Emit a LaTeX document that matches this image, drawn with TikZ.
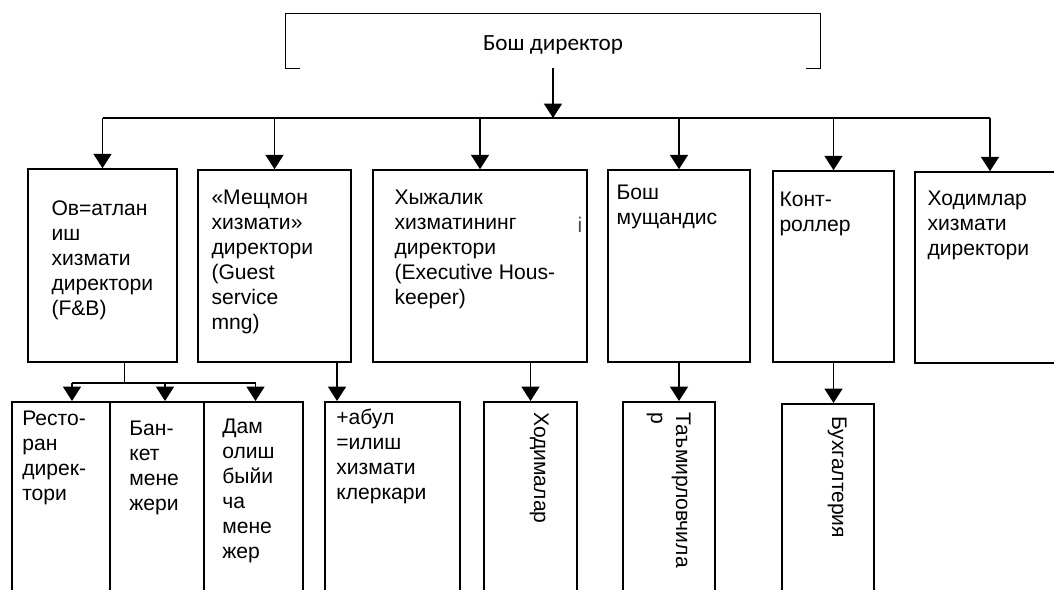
\documentclass[tikz,border=0pt]{standalone}
\usepackage{fontspec}
\setmainfont{Liberation Sans}
\newfontfamily\calfont{Carlito}
\usepackage{xcolor}
\usepackage{tikz}
\usetikzlibrary{arrows.meta,fit,calc}

\tikzset{
  box/.style = {draw, line width=1.1pt, inner sep=0pt},
  lowbox/.style = {box, line width=1.4pt},
  lbl/.style = {anchor=north west, align=left, inner sep=0pt,
                font=\fontsize{15}{17.8}\selectfont},
  vlbl/.style = {lbl, rotate=-90},
  arr/.style = {-{Triangle[width=0.45cm,length=0.36cm]}, line width=1.1pt}
}

\begin{document}
\begin{tikzpicture}[x=0.025cm, y=-0.025cm]

\clip (0,0) rectangle (1054,590);

\node[inner sep=0pt, fit={(286,14) (820,68)}] (GM) {};
\node[font=\calfont\fontsize{16.5}{19}\selectfont] (GMt)
  at ($(GM.center)+(0,4)$) {Бош директор};
\draw[line width=1.1pt] ($(GM.south west)+(14,0)$) -- (GM.south west)
  -- (GM.north west) -- (GM.north east) -- (GM.south east)
  -- ($(GM.south east)+(-14,0)$);

\node[box, fit={(28,169) (177,362)}] (FB) {};
\node[box, fit={(198,170) (351,362)}] (GS) {};
\node[box, fit={(373,170) (587,362)}] (HK) {};
\node[box, fit={(608,170) (750,362)}] (CE) {};
\node[box, fit={(773,171) (894,362)}] (CO) {};
\node[box, fit={(915,172) (1065,363)}] (HR) {};

\node[lbl] (FBt) at ($(FB.north west)+(24,32)$)
  {Ов=атлан\\иш\\хизмати\\директори\\(F\&B)};
\node[lbl] (GSt) at ($(GS.north west)+(14,20)$)
  {«Мещмон\\хизмати»\\директори\\(Guest\\service\\mng)};
\node[lbl] (HKt) at ($(HK.north west)+(22,20)$)
  {Хыжалик\\хизматининг\\директори\\(Executive Hous-\\keeper)};
\node[lbl] (CEt) at ($(CE.north west)+(9,15)$) {Бош\\мущандис};
\node[lbl] (COt) at ($(CO.north west)+(7,21)$) {Конт-\\роллер};
\node[lbl] (HRt) at ($(HR.north west)+(13,19)$)
  {Ходимлар\\хизмати\\директори};
\node[lbl, anchor=center, text=black!70] (HKi) at (580,225) {i};

\node[lowbox, fit={(12,402) (110,620)}] (RD) {};
\node[lowbox, fit={(110,402) (204,620)}] (BM) {};
\node[lowbox, fit={(204,402) (303,620)}] (RM) {};
\node[lowbox, fit={(325,402) (460,620)}] (FO) {};
\node[lowbox, fit={(484,402) (577,620)}] (ST) {};
\node[lowbox, fit={(623,402) (715,620)}] (TM) {};
\node[lowbox, fit={(782,404) (874,620)}] (AC) {};

\node[lbl] (RDt) at ($(RD.north west)+(11,10)$) {Ресто-\\ран\\дирек-\\тори};
\node[lbl] (BMt) at ($(BM.north west)+(20,20)$) {Бан-\\кет\\мене\\жери};
\node[lbl] (RMt) at ($(RM.north west)+(19,18)$)
  {Дам\\олиш\\быйи\\ча\\мене\\жер};
\node[lbl] (FOt) at ($(FO.north west)+(12,8)$)
  {+абул\\=илиш\\хизмати\\клеркари};
\node[vlbl] (STt) at ($(ST.north west)+(66,11)$) {Ходималар};
\node[vlbl] (TMt) at ($(TM.north west)+(69,11)$) {Таъмирловчила\\р};
\node[vlbl] (ACt) at ($(AC.north west)+(66,13)$) {Бухгалтерия};

\coordinate (bus) at (0,118);
\coordinate (sub) at (0,383);
\coordinate (fb) at ($(FB.south)+(22,0)$);
\coordinate (rd) at ($(RD.north)+(11,0)$);
\coordinate (bm) at ($(BM.north)+(8,0)$);
\coordinate (rm) at ($(RM.north)+(2,0)$);
\coordinate (fo) at ($(FO.north west)+(13,0)$);

\draw[arr] (GM.south) -- (GM.south |- bus);
\draw[line width=1.1pt] (FB.north |- bus) -- (HR.north |- bus);
\foreach \n in {FB,GS,HK,CE,CO,HR}
  \draw[arr] (\n.north |- bus) -- (\n.north);

\draw[line width=1.1pt] (fb) -- (fb |- sub);
\draw[line width=1.1pt] (rd |- sub) -- (rm |- sub);
\foreach \n in {rd,bm,rm}
  \draw[arr] (\n |- sub) -- (\n);

\draw[arr] (GS.south -| fo) -- (fo);
\draw[arr] (HK.south -| ST.north) -- (ST.north);
\draw[arr] (CE.south) -- (CE.south |- TM.north);
\draw[arr] (CO.south) -- (CO.south |- AC.north);

\end{tikzpicture}
\end{document}
